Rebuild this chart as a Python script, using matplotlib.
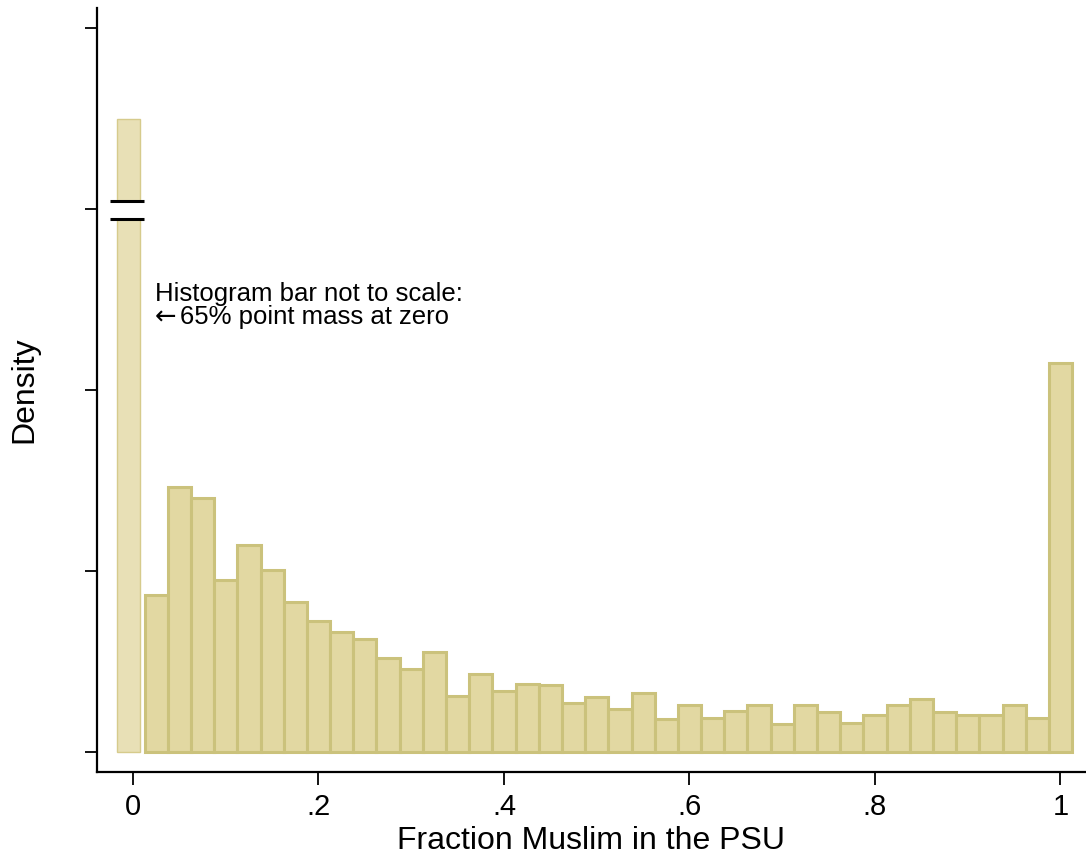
import matplotlib
matplotlib.use("Agg")
import matplotlib.pyplot as plt

# Histogram data (density)
bin_width = 0.025
bin_centers = [round(k * bin_width, 3) for k in range(1, 41)]
densities = [1.735, 2.925, 2.810, 1.901, 2.287, 2.011, 1.654, 1.451, 1.323, 1.252,
             1.042, 0.914, 1.108, 0.619, 0.865, 0.671, 0.751, 0.737, 0.545, 0.604,
             0.475, 0.655, 0.361, 0.519, 0.379, 0.456, 0.519, 0.309, 0.519, 0.442,
             0.324, 0.406, 0.519, 0.586, 0.442, 0.406, 0.406, 0.519, 0.376, 4.302]

# The point mass at zero (drawn not to scale)
zero_left = -0.017
zero_width = 0.0245
zero_height = 6.99
break_y = (5.89, 6.09)

x_ticks = [0, 0.2, 0.4, 0.6, 0.8, 1.0]
x_ticklabels = ["0", ".2", ".4", ".6", ".8", "1"]
y_ticks = [0, 2, 4, 6, 8]

plt.rcParams['font.family'] = ['Liberation Sans', 'DejaVu Sans']

fig = plt.figure(figsize=(10.86, 8.58), dpi=100)
ax = fig.add_axes([0.0893, 0.1002, 0.9107, 0.8905])

fill = '#E2D8A2'
edge = '#CBC27C'

# zero bar, lighter with a thin outline
ax.bar([zero_left], [zero_height], width=zero_width, align='edge',
       color='#E8E0B6', edgecolor='#D6CB8C', linewidth=1.0, zorder=1)

# regular bins
ax.bar(bin_centers, densities, width=bin_width, color=fill,
       edgecolor=edge, linewidth=2.2, zorder=2)

# break marks on the zero bar
ax.fill_between([zero_left - 0.002, zero_left + zero_width + 0.002], break_y[0], break_y[1],
                color='white', zorder=3)
for yy in break_y:
    ax.plot([-0.0248, 0.0119], [yy, yy], color='black', linewidth=2.2,
            solid_capstyle='butt', zorder=4)

ax.text(0.0237, 4.987, "Histogram bar not to scale:", fontsize=18.5, va='baseline', ha='left')
ax.text(0.0237, 4.726, "\u2190", fontsize=18.5, va='baseline', ha='left', family='DejaVu Sans')
ax.text(0.0505, 4.726, "65% point mass at zero", fontsize=18.5, va='baseline', ha='left')

ax.set_xlim(-0.0388, 1.0275)
ax.set_ylim(-0.22, 8.22)

ax.set_xticks(x_ticks)
ax.set_xticklabels(x_ticklabels)
ax.set_yticks(y_ticks)
ax.set_yticklabels([])
ax.tick_params(axis='both', direction='out', length=9, width=1.3, color='black',
               labelsize=21, pad=6)

for side in ['top', 'right']:
    ax.spines[side].set_visible(False)
for side in ['left', 'bottom']:
    ax.spines[side].set_linewidth(1.6)
    ax.spines[side].set_color('black')

ax.set_xlabel("Fraction Muslim in the PSU", fontsize=23, labelpad=4)
fig.text(24 / 1086, 1 - 390 / 858, "Density", fontsize=23, rotation=90,
         ha='center', va='center')

fig.savefig("out.png", dpi=100)
